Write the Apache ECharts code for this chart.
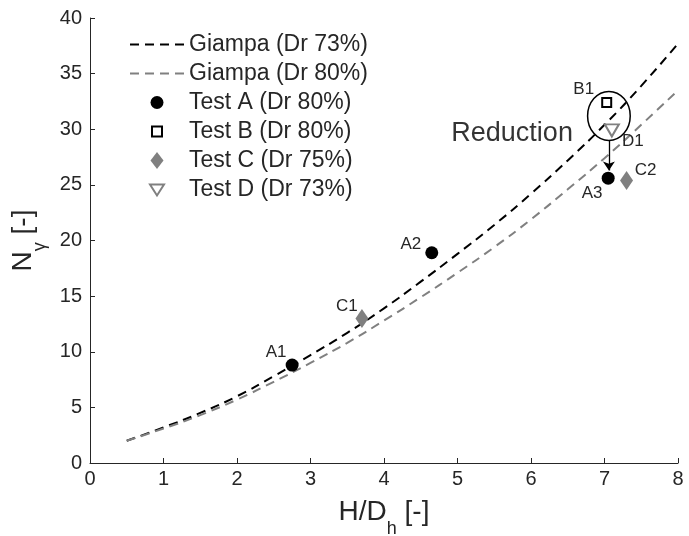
<!DOCTYPE html>
<html><head><meta charset="utf-8">
<script src="https://cdn.jsdelivr.net/npm/echarts@6/dist/echarts.min.js"></script>
<style>html,body{margin:0;padding:0;background:#fff}#c{width:689px;height:536px}</style>
</head><body><div id="c"></div>
<script>
const xTicks = [0,1,2,3,4,5,6,7,8];
const yTicks = [0,5,10,15,20,25,30,35,40];
const curveX = [0.5,1,1.5,2,2.5,3,3.5,4,4.5,5,5.5,6,6.5,7,7.5,8];
const giampa73 = [2.0,3.2,4.5,6.0,7.8,9.7,11.7,13.9,16.3,18.8,21.4,24.2,27.2,30.4,33.9,37.7];
const giampa80 = [2.0,3.1,4.3,5.7,7.3,9.0,10.8,12.8,14.9,17.1,19.4,21.9,24.6,27.4,30.4,33.5];
const testA = [[2.75,8.8],[4.65,18.9],[7.05,25.6]];
const testANames = ['A1','A2','A3'];
const testB = [[7.03,32.4]];
const testBNames = ['B1'];
const testC = [[3.70,13.0],[7.30,25.4]];
const testCNames = ['C1','C2'];
const testD = [[7.10,29.9]];
const testDNames = ['D1'];
const ellipse = [[7.06,31.2,0.29,2.2]]; // cx, cy, rx, ry (data units)
const arrow = [[7.06,29.0],[7.06,26.3]];
const reductionText = [[6.57,29.6]];

const FONT = '"Liberation Sans", Arial, Helvetica, sans-serif';
const TXT = '#262626';
const labelOffsets = {A1:[-16,-13],A2:[-21,-8],A3:[-16,15],B1:[-23,-13],C1:[-15,-12],C2:[19,-10],D1:[21,11]};

function pts(vals, names){
  return vals.map((v,i)=>({value:v, name:names[i], label:{offset:labelOffsets[names[i]]}}));
}
const ptLabel = {show:true, position:'inside', formatter:p=>p.name, color:TXT, fontSize:17, fontFamily:FONT};
const titleRich = {
  m:{fontSize:28,color:TXT,fontFamily:FONT,lineHeight:28,verticalAlign:'top'},
  s:{fontSize:18,color:TXT,fontFamily:FONT,lineHeight:18,verticalAlign:'top',padding:[22,0,0,0]}
};
const hidden = {opacity:0, color:'rgba(0,0,0,0)', borderWidth:0};

const chart = echarts.init(document.getElementById('c'));
chart.setOption({
  backgroundColor:'#fff',
  animation:false,
  grid:{left:90, right:11, top:18, bottom:73, containLabel:false, outerBoundsMode:'none'},
  legend:{
    orient:'vertical', left:124, top:28, itemWidth:54, itemHeight:18, itemGap:6,
    textStyle:{fontSize:23, color:TXT, fontFamily:FONT},
    data:[
      {name:'Giampa (Dr 73%)', itemStyle:hidden},
      {name:'Giampa (Dr 80%)', itemStyle:hidden},
      {name:'Test A (Dr 80%)', icon:'path://M0,0M18,18M2.5,9a6.5,6.5 0 1,0 13,0a6.5,6.5 0 1,0 -13,0z'},
      {name:'Test B (Dr 80%)', icon:'path://M0,0M18,18M4,4h10v10h-10z'},
      {name:'Test C (Dr 75%)', icon:'path://M0,0M18,18M9,0.5L15.5,9L9,17.5L2.5,9Z'},
      {name:'Test D (Dr 73%)', icon:'path://M0,0M18,18M2,4L16,4L9,15Z'}
    ]
  },
  xAxis:{
    type:'value', min:0, max:8, interval:1,
    axisLine:{lineStyle:{color:TXT,width:1}},
    axisTick:{inside:true, length:5, lineStyle:{color:TXT}},
    axisLabel:{fontSize:20, color:TXT, fontFamily:FONT, margin:6},
    splitLine:{show:false},
    name:'{m|H/D}{s|h}{m| [-]}', nameLocation:'middle', nameGap:35,
    nameTextStyle:{rich:titleRich}
  },
  yAxis:{
    type:'value', min:0, max:40, interval:5,
    axisLine:{show:true, lineStyle:{color:TXT,width:1}},
    axisTick:{show:true, inside:true, length:5, lineStyle:{color:TXT}},
    axisLabel:{fontSize:20, color:TXT, fontFamily:FONT, margin:8},
    splitLine:{show:false},
    name:'{m|N}{s|γ}{m| [-]}', nameLocation:'middle', nameGap:43, nameRotate:90,
    nameTextStyle:{rich:titleRich}
  },
  series:[
    {name:'Giampa (Dr 73%)', type:'line', data:curveX.map((x,i)=>[x,giampa73[i]]), smooth:true, symbol:'none',
     lineStyle:{color:'#000', width:2, type:[9,6]}, itemStyle:{color:'#000'}, z:2},
    {name:'Giampa (Dr 80%)', type:'line', data:curveX.map((x,i)=>[x,giampa80[i]]), smooth:true, symbol:'none',
     lineStyle:{color:'#808080', width:2, type:[9,6]}, itemStyle:{color:'#808080'}, z:2},
    {name:'Test A (Dr 80%)', type:'scatter', data:pts(testA,testANames), symbol:'circle', symbolSize:13,
     itemStyle:{color:'#000', opacity:1}, label:ptLabel, z:5},
    {name:'Test B (Dr 80%)', type:'scatter', data:pts(testB,testBNames), symbol:'rect', symbolSize:9,
     itemStyle:{color:'#fff', borderColor:'#000', borderWidth:2, opacity:1}, label:ptLabel, z:5},
    {name:'Test C (Dr 75%)', type:'scatter', data:pts(testC,testCNames), symbol:'diamond', symbolSize:[13,19],
     itemStyle:{color:'#808080', opacity:1}, label:ptLabel, z:5},
    {name:'Test D (Dr 73%)', type:'scatter', data:pts(testD,testDNames), symbol:'path://M0,0 L12,0 L6,10 Z', symbolSize:[14,12],
     itemStyle:{color:'#fff', borderColor:'#808080', borderWidth:2, opacity:1}, label:ptLabel, z:5},
    {name:'ellipse', type:'custom', data:ellipse, z:4, silent:true,
     renderItem:function(params, api){
       const c = api.coord([api.value(0), api.value(1)]);
       const s = api.size([api.value(2), api.value(3)]);
       return {type:'ellipse', shape:{cx:c[0], cy:c[1], rx:s[0], ry:s[1]}, style:{fill:null, stroke:'#000', lineWidth:1.5}};
     }},
    {name:'arrow', type:'lines', coordinateSystem:'cartesian2d', data:[{coords:arrow}], symbol:['none','arrow'], symbolSize:9,
     lineStyle:{color:'#000', width:1.3, opacity:1}, z:4, silent:true},
    {name:'reduction', type:'scatter', data:reductionText, symbolSize:0, silent:true,
     label:{show:true, position:'inside', align:'right', formatter:'Reduction', fontSize:27, color:'#000', fontFamily:FONT}}
  ]
});
</script></body></html>
